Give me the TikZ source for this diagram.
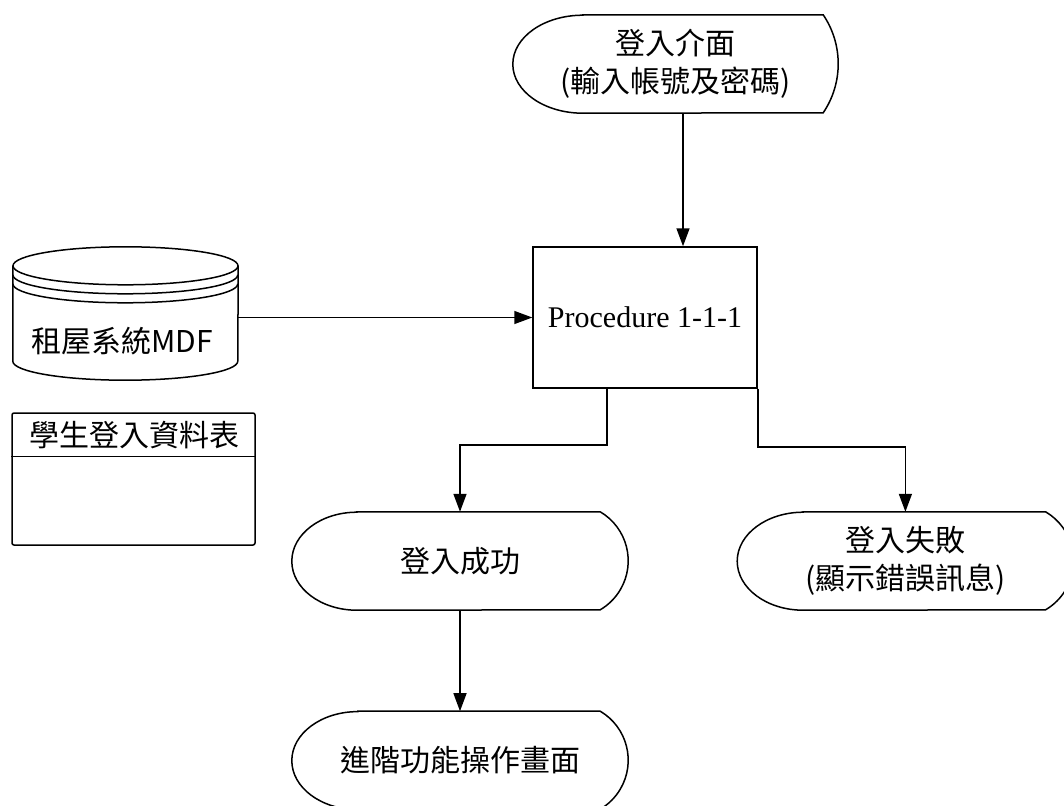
\documentclass[tikz,border=0pt]{standalone}
\usepackage{fontspec}
\setmainfont{Liberation Serif}
\newfontfamily\cjk{Noto Sans CJK TC}
\usepackage{tikz}
\usetikzlibrary{arrows.meta, positioning, calc}
\usepackage{xcolor}

% display outline round a node: #1 node, #2 left bulge, #3 right bulge
\newcommand{\dispoutline}[3]{%
  \pgfmathsetmacro\dispR{(49*49+#3*#3)/(2*#3)}%
  \pgfmathsetmacro\dispA{atan2(49,\dispR-#3)}%
  \draw[shapeline] ([xshift=#2]#1.north west) -- ([xshift=-#3]#1.north east)
    arc[start angle=\dispA, end angle=-\dispA, radius=\dispR]
    -- ([xshift=#2]#1.south west)
    arc[start angle=270, end angle=90, x radius=#2, y radius=49] -- cycle;}

\begin{document}
\begin{tikzpicture}[x=1pt, y=1pt,
        shapeline/.style={line width=1.5pt},
        flow/.style={-{Triangle[length=18pt, width=13pt]}, line width=1.5pt},
        cjktext/.style={font={\cjk\fontsize{30}{38}\selectfont}, inner sep=0pt},
        disp/.style={cjktext, align=center, minimum width=336, minimum height=98},
        procbox/.style={rectangle, draw, line width=1.5pt, minimum width=224, minimum height=141, font=\fontsize{30}{36}\selectfont},
        dbframe/.style={inner sep=0pt, minimum width=225, minimum height=133},
        tablebox/.style={rectangle, draw, line width=1.5pt, rounded corners=2pt, minimum width=243, minimum height=132}
    ]
        \path[use as bounding box] (0,0) rectangle (1064,-805);
        \clip (0,0) rectangle (1064,-805);

        % Nodes
        \node [disp, minimum width=325] (login) at (675.5,-64) {登入介面\\(輸入帳號及密碼)};
        \node [procbox] (proc) at (645,-317.5) {Procedure 1-1-1};

        \node [dbframe] (mdf) at (125.5,-313.5) {};
        \node [cjktext] (mdflabel) at (122,-341) {租屋系統MDF};

        \node [tablebox] (stutable) at (133.5,-479) {};
        \node [cjktext] (stutitle) at (134,-435) {學生登入資料表};

        \node [disp] (success) at (460,-561) {登入成功};
        \node [disp, right=109pt of success] (fail) {登入失敗\\(顯示錯誤訊息)};
        \node [disp, below=101pt of success] (advanced) {進階功能操作畫面};

        % Shapes
        \dispoutline{login}{70}{15}
        \dispoutline{success}{65}{28}
        \dispoutline{fail}{66}{28}
        \dispoutline{advanced}{66}{28}

        \draw [shapeline] ([yshift=-19]mdf.north west) -- ([yshift=19]mdf.south west)
            arc[start angle=180, end angle=360, x radius=112.5, y radius=19] -- ([yshift=-19]mdf.north east);
        \draw [shapeline] ([yshift=-19]mdf.north) ellipse[x radius=112.5, y radius=19];
        \foreach \d in {9,18}
            \draw [shapeline] ([yshift=-19-\d]mdf.north west) arc[start angle=180, end angle=360, x radius=112.5, y radius=19];

        \draw [shapeline] ([yshift=-44]stutable.north west) -- ([yshift=-44]stutable.north east);

        % Arrows
        \draw [flow] ([xshift=7.5]login.south) -- ([xshift=38]proc.north);
        \draw [flow] (proc.west -| mdf.east) -- (proc.west);
        \draw [flow] ([xshift=-38]proc.south) -- ++(0,-56) -| (success.north);
        \draw [flow] (proc.south east) -- ++(0,-58) -| (fail.north);
        \draw [flow] (success) -- (advanced);
    \end{tikzpicture}
\end{document}
